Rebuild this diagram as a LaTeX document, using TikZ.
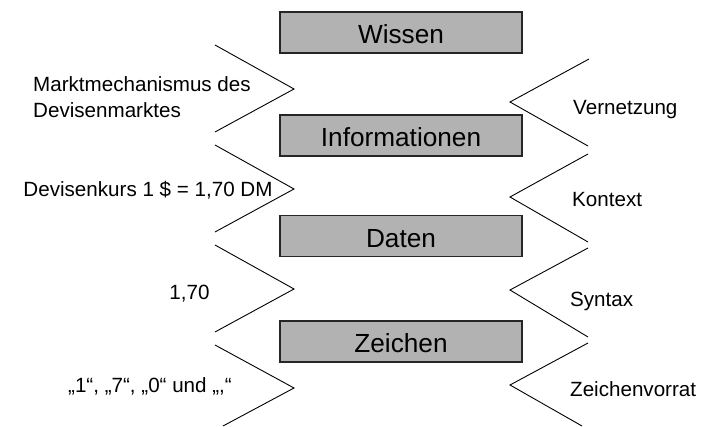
\documentclass[tikz,border=0pt]{standalone}
\usepackage{fontspec}
\setmainfont{Liberation Sans}
\begin{document}
\begin{tikzpicture}[x=1pt,y=-1pt,
  levelbox/.style={draw=black!85, line width=1.2pt, fill={rgb,255:red,178;green,178;blue,178},
    minimum width=242pt, minimum height=41pt, inner sep=0pt,
    text height=23pt, text depth=0pt, font=\fontsize{26.2}{30}\selectfont},
  lbl/.style={anchor=base west, inner sep=0pt, font=\fontsize{20.6}{26}\selectfont},
  clbl/.style={lbl, anchor=base},
  chev/.style={draw=black, line width=0.9pt, line join=miter}]
\useasboundingbox (0,0) rectangle (702,427);

% level boxes
\node[levelbox] (wissen) at (401,32.5) {Wissen};
\node[levelbox] (info) at (401,135.5) {Informationen};
\node[levelbox] (daten) at (401,236) {Daten};
\node[levelbox] (zeichen) at (401,341.5) {Zeichen};

% left chevrons
\draw[chev] (215,45) -- (294,89) -- (215,132);
\draw[chev] (215,145) -- (294,189) -- (215,232);
\draw[chev] (215,245) -- (294,289) -- (215,332);
\draw[chev] (215,345) -- (294,388) -- (223,426);

% right chevrons
\draw[chev] (589,59) -- (510,102) -- (588,146);
\draw[chev] (588,154) -- (510,197) -- (588,242);
\draw[chev] (588,248) -- (510,290) -- (588,337);
\draw[chev] (588,343) -- (510,385) -- (582,426);

% left labels
\node[lbl] (markt1) at (33,92) {Marktmechanismus des};
\node[lbl] (markt2) at (33,118) {Devisenmarktes};
\node[clbl] (kurs) at (148,197) {Devisenkurs 1 \$ = 1,70 DM};
\node[clbl] (zahl) at (189.5,300) {1,70};
\node[clbl] (zeich) at (150,393) {„1“, „7“, „0“ und „,“};

% right labels
\node[lbl] (vern) at (573,115) {Vernetzung};
\node[lbl] (kont) at (572,207) {Kontext};
\node[lbl] (synt) at (570,307) {Syntax};
\node[lbl] (vorrat) at (570,397) {Zeichenvorrat};
\end{tikzpicture}
\end{document}
